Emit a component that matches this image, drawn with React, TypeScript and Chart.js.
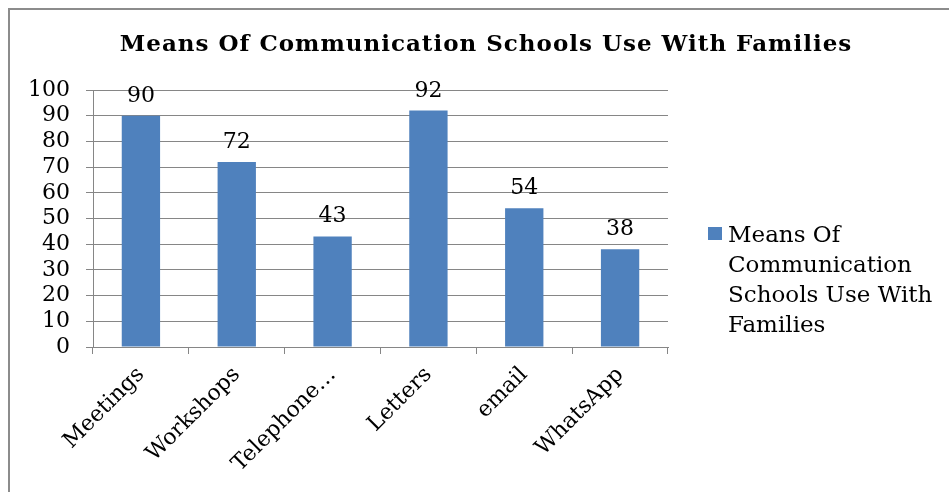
import React, { useEffect, useRef } from 'react';
import { Chart, registerables } from 'chart.js';

Chart.register(...registerables);

const chartTitle = 'Means Of Communication Schools Use With Families';
const seriesName = 'Means Of Communication Schools Use With Families';
const legendLines = ['Means Of', 'Communication', 'Schools Use With', 'Families'];
const categories = ['Meetings', 'Workshops', 'Telephone…', 'Letters', 'email', 'WhatsApp'];
const values = [90, 72, 43, 92, 54, 38];
const yMin = 0;
const yMax = 100;
const yStep = 10;

const SERIF = '"DejaVu Serif", Georgia, serif';
const BAR = '#4F81BD';
const GRID = '#868686';

const decor = {
  id: 'decor',
  afterDraw(chart: any) {
    const ctx = chart.ctx;
    ctx.save();
    // outer chart border (left and top visible)
    ctx.strokeStyle = '#8c8c8c';
    ctx.lineWidth = 2;
    ctx.beginPath();
    ctx.moveTo(9, 492);
    ctx.lineTo(9, 9);
    ctx.lineTo(949, 9);
    ctx.stroke();

    // title
    ctx.fillStyle = '#000';
    ctx.textAlign = 'center';
    ctx.textBaseline = 'alphabetic';
    ctx.font = `bold 23px ${SERIF}`;
    try { (ctx as any).letterSpacing = '1px'; } catch (e) {}
    ctx.fillText(chartTitle, 486, 51);
    try { (ctx as any).letterSpacing = '0px'; } catch (e) {}

    // data labels
    ctx.font = `22px ${SERIF}`;
    const meta = chart.getDatasetMeta(0);
    meta.data.forEach((bar: any, i: number) => {
      ctx.fillText(String(values[i]), bar.x, bar.y - 14);
    });

    // legend
    ctx.fillStyle = BAR;
    ctx.fillRect(708, 227, 14, 13);
    ctx.fillStyle = '#000';
    ctx.textAlign = 'left';
    ctx.font = `23px ${SERIF}`;
    legendLines.forEach((line, i) => {
      ctx.fillText(line, 728, 242 + i * 30);
    });
    ctx.restore();
  },
};

export default function App() {
  const ref = useRef<HTMLCanvasElement | null>(null);

  useEffect(() => {
    if (!ref.current) return;
    const chart = new Chart(ref.current, {
      type: 'bar',
      data: {
        labels: categories,
        datasets: [
          {
            label: seriesName,
            data: values,
            backgroundColor: BAR,
            borderWidth: 0,
            categoryPercentage: 1,
            barPercentage: 0.4,
          },
        ],
      },
      options: {
        responsive: false,
        animation: false,
        layout: { padding: { top: 90, right: 281, bottom: 0, left: 0 } },
        plugins: {
          legend: { display: false },
          title: { display: false },
          tooltip: { enabled: false },
        },
        scales: {
          x: {
            afterFit(scale: any) {
              scale.height = 145;
            },
            grid: {
              display: true,
              drawOnChartArea: false,
              drawTicks: true,
              tickLength: 7,
              offset: true,
              color: GRID,
            },
            border: { display: true, color: GRID, width: 1 },
            ticks: {
              color: '#000',
              font: { family: SERIF, size: 22 },
              minRotation: 45,
              maxRotation: 45,
              padding: 8,
              autoSkip: false,
            },
          },
          y: {
            min: yMin,
            max: yMax,
            afterFit(scale: any) {
              scale.width = 93;
            },
            grid: {
              color: GRID,
              drawTicks: true,
              tickLength: 7,
            },
            border: { display: true, color: GRID, width: 1 },
            ticks: {
              stepSize: yStep,
              autoSkip: false,
              color: '#000',
              font: { family: SERIF, size: 22 },
              padding: 16,
            },
          },
        },
      },
      plugins: [decor],
    });
    return () => chart.destroy();
  }, []);

  return (
    <div style={{ position: 'absolute', left: 0, top: 0, width: 949, height: 492, background: '#fff' }}>
      <canvas ref={ref} width={949} height={492} style={{ display: 'block', width: 949, height: 492 }} />
    </div>
  );
}
